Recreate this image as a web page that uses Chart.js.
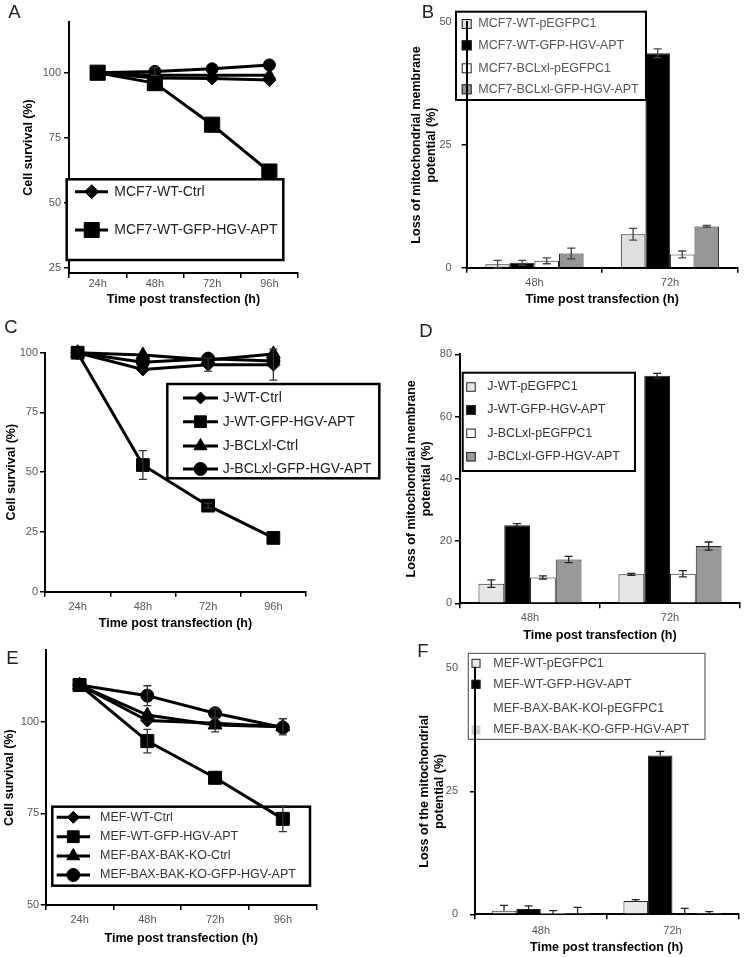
<!DOCTYPE html>
<html>
<head>
<meta charset="utf-8">
<script src="https://cdn.jsdelivr.net/npm/chart.js@4.4.1/dist/chart.umd.min.js"></script>
<style>
  html, body { margin: 0; padding: 0; background: #fff; }
  body { width: 747px; height: 957px; position: relative; overflow: hidden; }
  canvas { position: absolute; }
</style>
</head>
<body>
<script>
const family = "'Liberation Sans', Arial, Helvetica, sans-serif";
Chart.defaults.font.family = family;
Chart.defaults.animation = false;

const timeLabels = ['24h', '48h', '72h', '96h'];
const barTimes = ['48h', '72h'];
const xTitle = 'Time post transfection (h)';
const survivalTitle = 'Cell survival (%)';

// A - MCF7 survival (only the first two series are in the legend)
const aNames = ['MCF7-WT-Ctrl', 'MCF7-WT-GFP-HGV-APT', 'MCF7-BCLxl-Ctrl', 'MCF7-BCLxl-GFP-HGV-APT'];
const aWtCtrl = [100, 98, 97.8, 97.2];
const aWtApt = [100, 96, 80, 62];
const aBclCtrl = [100, 99, 99, 99];
const aBclApt = [100, 100.5, 101.5, 103];
const aErr = [[0, 0, 0, 0], [0, 0, 0, 0], [0, 0, 0, 0], [0, 1.5, 0, 0]];
const aTicks = [25, 50, 75, 100];

// B - MCF7 mitochondrial potential
const bNames = ['MCF7-WT-pEGFPC1', 'MCF7-WT-GFP-HGV-APT', 'MCF7-BCLxl-pEGFPC1', 'MCF7-BCLxl-GFP-HGV-APT'];
const bWtVec = [0.7, 6.8];
const bWtApt = [1.0, 43.7];
const bBclVec = [1.4, 2.7];
const bBclApt = [2.9, 8.4];
const bErr = [[0.8, 1.2], [0.5, 0.9], [0.6, 0.7], [1.1, 0.2]];
const bTicks = [0, 25, 50];

// C - Jurkat survival
const cNames = ['J-WT-Ctrl', 'J-WT-GFP-HGV-APT', 'J-BCLxl-Ctrl', 'J-BCLxl-GFP-HGV-APT'];
const cWtCtrl = [100, 93, 95, 95];
const cWtApt = [100, 53, 36, 22.5];
const cBclCtrl = [100, 99, 97, 99.5];
const cBclApt = [100, 96, 97.5, 96.5];
const cErr = [[0, 0, 2.7, 6.5], [0, 6, 1, 0], [0, 0, 0, 0], [0, 0, 0, 0]];
const cTicks = [0, 25, 50, 75, 100];

// D - Jurkat mitochondrial potential
const dNames = ['J-WT-pEGFPC1', 'J-WT-GFP-HGV-APT', 'J-BCLxl-pEGFPC1', 'J-BCLxl-GFP-HGV-APT'];
const dWtVec = [6.3, 9.3];
const dWtApt = [25.1, 73.1];
const dBclVec = [8.3, 9.5];
const dBclApt = [14.1, 18.4];
const dErr = [[1.2, 0.3], [0.5, 0.8], [0.5, 1.0], [1.0, 1.3]];
const dTicks = [0, 20, 40, 60, 80];

// E - MEF survival
const eNames = ['MEF-WT-Ctrl', 'MEF-WT-GFP-HGV-APT', 'MEF-BAX-BAK-KO-Ctrl', 'MEF-BAX-BAK-KO-GFP-HGV-APT'];
const eWtCtrl = [110, 100.3, 99.6, 98.6];
const eWtApt = [110, 94.7, 84.7, 73.5];
const eKoCtrl = [110, 101.8, 99.1, 98.6];
const eKoApt = [110, 107.1, 102.3, 98.4];
const eErr = [[0, 0, 0, 0], [0, 3.2, 0, 3.5], [0, 0, 1.9, 2.2], [0, 2.7, 1.3, 0]];
const eTicks = [50, 75, 100];

// F - MEF mitochondrial potential (upper error bars only)
const fNames = ['MEF-WT-pEGFPC1', 'MEF-WT-GFP-HGV-APT', 'MEF-BAX-BAK-KOl-pEGFPC1', 'MEF-BAX-BAK-KO-GFP-HGV-APT'];
const fWtVec = [0.7, 2.7];
const fWtApt = [1.1, 32.3];
const fKoVec = [0.05, 0];
const fKoApt = [0.2, 0.2];
const fErr = [[1.1, 0.3], [0.6, 0.8], [0.7, 1.2], [1.2, 0.35]];
const fTicks = [0, 25, 50];

const markers = ['rectRot', 'rect', 'triangle', 'circle'];

// panel layout, all in page pixels
const specs = [
  { id: 'A', type: 'line', letterAt: [14.3, 13.3],
    box: {x: 0, y: 0, w: 370, h: 312}, area: {l: 69, t: 22, r: 298, b: 273},
    yTitleX: 28.3, xTitleY: 300, xPad: 0, yPad: 3,
    labels: timeLabels, names: aNames, series: [aWtCtrl, aWtApt, aBclCtrl, aBclApt], errors: aErr,
    yMin: 23, yMax: 119.5, yTicks: aTicks, yTitle: survivalTitle, radii: [6.5, 10.7, 7, 6], errColor: '#333',
    legend: {box: {x: 66.7, y: 179.3, w: 216.6, h: 80.7}, border: 2.5, stroke: '#000', items: [0, 1],
      ys: [191.7, 230], font: 14, color: '#222', line: [75, 108], markAt: 91.7, textX: 114.3, radii: [7, 10.6]} },
  { id: 'B', type: 'bar', letterAt: [428, 13],
    box: {x: 370, y: 0, w: 377, h: 312}, area: {l: 466.7, t: 22.3, r: 737.7, b: 267.7},
    yTitleX: 416.7, xTitleY: 300, xPad: 5, yPad: 10,
    labels: barTimes, names: bNames, series: [bWtVec, bWtApt, bBclVec, bBclApt], errors: bErr,
    yMin: 0, yMax: 50, yTicks: bTicks, yTitle: ['Loss of mitochondrial membrane', 'potential (%)'],
    fills: ['#dedede', '#000', '#fff', '#969696'], borders: [1, 1, 1, 1], catPct: 0.725, errColor: '#444', axisOver: true,
    legend: {box: {x: 456, y: 11.7, w: 190, h: 88.3}, border: 2, stroke: '#000', items: [0, 1, 2, 3],
      ys: [24, 45.3, 68.3, 89.3], font: 12.5, color: '#555', swatchX: 466.7, swatch: 10, textX: 478.3} },
  { id: 'C', type: 'line', letterAt: [11, 327.5],
    box: {x: 0, y: 310, w: 382, h: 325}, area: {l: 45, t: 352.7, r: 306, b: 591.7},
    yTitleX: 11.7, xTitleY: 623.3, xPad: 4.5, yPad: 2,
    labels: timeLabels, names: cNames, series: [cWtCtrl, cWtApt, cBclCtrl, cBclApt], errors: cErr,
    yMin: 0, yMax: 100, yTicks: cTicks, yTitle: survivalTitle, radii: [6.5, 9, 8, 6.5], errColor: '#333',
    legend: {box: {x: 167.3, y: 384, w: 212, h: 94.3}, border: 2.5, stroke: '#000', items: [0, 1, 2, 3],
      ys: [398, 421.7, 446, 469], font: 14, color: '#222', line: [183, 218], markAt: 200.5, textX: 222.7, radii: [6, 8.3, 7.5, 6.5]} },
  { id: 'D', type: 'bar', letterAt: [426, 331.5],
    box: {x: 370, y: 310, w: 377, h: 335}, area: {l: 460, t: 354.3, r: 740, b: 603.3},
    yTitleX: 411.7, xTitleY: 636, xPad: 4, yPad: 3,
    labels: barTimes, names: dNames, series: [dWtVec, dWtApt, dBclVec, dBclApt], errors: dErr,
    yMin: 0, yMax: 80, yTicks: dTicks, yTitle: ['Loss of mitochondrial membrane', 'potential (%)'],
    fills: ['#e6e6e6', '#000', '#fff', '#999'], borders: [1, 1, 1, 1], catPct: 0.736, errColor: '#222',
    legend: {box: {x: 462.7, y: 372.7, w: 172.3, h: 98.3}, border: 2, stroke: '#000', items: [0, 1, 2, 3],
      ys: [387, 410, 433.3, 456.7], font: 12.5, color: '#333', swatchX: 471, swatch: 9.5, textX: 487.3} },
  { id: 'E', type: 'line', letterAt: [12.5, 658.5],
    box: {x: 0, y: 640, w: 370, h: 317}, area: {l: 45.7, t: 650, r: 316.7, b: 905},
    yTitleX: 9.7, xTitleY: 938.3, xPad: 4.5, yPad: 1.5,
    labels: timeLabels, names: eNames, series: [eWtCtrl, eWtApt, eKoCtrl, eKoApt], errors: eErr,
    yMin: 50, yMax: 119.5, yTicks: eTicks, yTitle: survivalTitle, radii: [6.5, 9.2, 8, 6.5], errColor: '#333',
    legend: {box: {x: 52.3, y: 806.7, w: 257.7, h: 79}, border: 2.5, stroke: '#000', items: [0, 1, 2, 3],
      ys: [817.3, 836.7, 856, 875], font: 12.5, color: '#333', line: [56.7, 90], markAt: 73.3, textX: 100, radii: [6, 8.3, 7.5, 6.5]} },
  { id: 'F', type: 'bar', letterAt: [423, 651.5],
    box: {x: 370, y: 638, w: 377, h: 319}, area: {l: 475, t: 668.3, r: 738.3, b: 914.3},
    yTitleX: 425, xTitleY: 947.7, xPad: 6, yPad: 12,
    labels: barTimes, names: fNames, series: [fWtVec, fWtApt, fKoVec, fKoApt], errors: fErr,
    yMin: 0, yMax: 50, yTicks: fTicks, yTitle: ['Loss of the mitochondrial', 'potential (%)'],
    fills: ['#e8e8e8', '#000', '#fff', '#cfcfcf'], borders: [1, 1, 0, 0], catPct: 0.745, errColor: '#222',
    upOnly: true, axisOver: true,
    legend: {box: {x: 468.3, y: 653.3, w: 236.7, h: 86}, border: 1, stroke: '#444', items: [0, 1, 2, 3],
      ys: [663.3, 684.3, 708.3, 730], font: 12.5, color: '#444', swatchX: 476, swatch: 9, textX: 493.3} }
];

function drawMarker(ctx, style, r, x, y) {
  if (Chart.helpers && Chart.helpers.drawPoint) {
    Chart.helpers.drawPoint(ctx, {pointStyle: style, radius: r, rotation: 0, borderWidth: 1}, x, y);
  } else {
    ctx.beginPath(); ctx.arc(x, y, r, 0, Math.PI * 2); ctx.fill();
  }
}

function drawLegend(chart, p) {
  const ctx = chart.ctx;
  const ox = p.box.x, oy = p.box.y;
  const lg = p.legend;
  const bx = lg.box.x - ox, by = lg.box.y - oy;
  ctx.save();
  ctx.fillStyle = '#fff';
  ctx.fillRect(bx, by, lg.box.w, lg.box.h);
  ctx.lineWidth = lg.border;
  ctx.strokeStyle = lg.stroke;
  ctx.strokeRect(bx, by, lg.box.w, lg.box.h);
  ctx.textBaseline = 'middle';
  ctx.textAlign = 'left';
  lg.items.forEach((di, k) => {
    const ds = chart.data.datasets[di];
    const y = lg.ys[k] - oy;
    if (p.type === 'line') {
      ctx.strokeStyle = '#000';
      ctx.lineWidth = 3;
      ctx.beginPath();
      ctx.moveTo(lg.line[0] - ox, y); ctx.lineTo(lg.line[1] - ox, y);
      ctx.stroke();
      ctx.fillStyle = '#000';
      ctx.lineWidth = 1;
      drawMarker(ctx, ds.pointStyle, lg.radii[k], lg.markAt - ox, y);
    } else {
      const s = lg.swatch;
      const sx = lg.swatchX - ox - s / 2, sy = y - s / 2;
      ctx.fillStyle = ds.backgroundColor;
      ctx.fillRect(sx, sy, s, s);
      if (ds.borderWidth) {
        ctx.lineWidth = 1;
        ctx.strokeStyle = ds.borderColor;
        ctx.strokeRect(sx + 0.5, sy + 0.5, s - 1, s - 1);
      }
    }
    ctx.font = lg.font + 'px ' + family;
    ctx.fillStyle = lg.color;
    ctx.fillText(ds.label, lg.textX - ox, y);
  });
  ctx.restore();
}

// error bars, legend box and panel letter
function decor(p) {
  return {
    id: 'decor' + p.id,
    beforeDatasetsDraw(chart) {
      // line markers sit on top of the legend box
      if (p.type === 'line') drawLegend(chart, p);
    },
    afterDatasetsDraw(chart) {
      const ctx = chart.ctx;
      const ys = chart.scales.y;
      const ox = p.box.x, oy = p.box.y;
      ctx.save();
      ctx.strokeStyle = p.errColor;
      ctx.lineWidth = 1.3;
      p.errors.forEach((errs, di) => {
        const meta = chart.getDatasetMeta(di);
        errs.forEach((e, j) => {
          if (!e) return;
          const v = chart.data.datasets[di].data[j];
          const x = meta.data[j].x;
          const yTop = ys.getPixelForValue(v + e);
          const yBot = ys.getPixelForValue(p.upOnly ? v : v - e);
          const cap = 4;
          ctx.beginPath();
          ctx.moveTo(x, yTop); ctx.lineTo(x, yBot);
          ctx.moveTo(x - cap, yTop); ctx.lineTo(x + cap, yTop);
          if (!p.upOnly) { ctx.moveTo(x - cap, yBot); ctx.lineTo(x + cap, yBot); }
          ctx.stroke();
        });
      });
      ctx.restore();

      if (p.type !== 'line') drawLegend(chart, p);

      ctx.save();
      ctx.font = '18.5px ' + family;
      ctx.fillStyle = '#222';
      ctx.textAlign = 'center';
      ctx.textBaseline = 'middle';
      ctx.fillText(p.id, p.letterAt[0] - ox, p.letterAt[1] - oy);
      ctx.restore();
    }
  };
}

specs.forEach(p => {
  const canvas = document.createElement('canvas');
  canvas.width = p.box.w;
  canvas.height = p.box.h;
  canvas.style.left = p.box.x + 'px';
  canvas.style.top = p.box.y + 'px';
  canvas.style.width = p.box.w + 'px';
  canvas.style.height = p.box.h + 'px';
  document.body.appendChild(canvas);

  const lh = 15;
  const yLeft = p.yTitleX - lh / 2;
  const yWidth = p.area.l - yLeft;
  const xHeight = p.xTitleY + lh / 2 - p.area.b;

  let datasets;
  if (p.type === 'line') {
    datasets = p.series.map((vals, i) => ({
      label: p.names[i], data: vals,
      borderColor: '#000', backgroundColor: '#000', borderWidth: 3,
      pointStyle: markers[i], pointRadius: p.radii[i],
      pointBackgroundColor: '#000', pointBorderColor: '#000', pointBorderWidth: 1,
      tension: 0, clip: false
    }));
  } else {
    datasets = p.series.map((vals, i) => ({
      label: p.names[i], data: vals,
      backgroundColor: p.fills[i], borderColor: '#222', borderWidth: p.borders[i],
      categoryPercentage: p.catPct, barPercentage: 1
    }));
  }

  const tickGrid = { drawOnChartArea: false, drawTicks: true, tickLength: 5, color: '#000', lineWidth: 1.5, offset: true };
  const titleFont = { size: 12.5, weight: 'bold', lineHeight: 1.2 };

  new Chart(canvas, {
    type: p.type,
    data: { labels: p.labels, datasets: datasets },
    options: {
      responsive: false,
      devicePixelRatio: 1,
      layout: { padding: {
        left: yLeft - p.box.x,
        top: p.area.t - p.box.y,
        right: p.box.x + p.box.w - p.area.r,
        bottom: p.box.y + p.box.h - (p.xTitleY + lh / 2)
      } },
      plugins: { legend: { display: false }, tooltip: { enabled: false } },
      scales: {
        x: {
          type: 'category', offset: true,
          grid: tickGrid,
          border: { display: true, color: '#000', width: 2 },
          ticks: { color: '#555', font: { size: 11, lineHeight: 1 }, padding: p.xPad, autoSkip: false, maxRotation: 0 },
          title: { display: true, text: xTitle, color: '#000', font: titleFont, padding: 0 },
          afterFit: s => { s.height = xHeight; }
        },
        y: {
          type: 'linear', min: p.yMin, max: p.yMax,
          afterBuildTicks: s => { s.ticks = p.yTicks.map(v => ({ value: v })); },
          grid: Object.assign({}, tickGrid, { offset: false }),
          border: { display: true, color: '#000', width: 2, z: p.axisOver ? 1 : 0 },
          ticks: { color: '#555', font: { size: 11, lineHeight: 1 }, padding: p.yPad },
          title: { display: true, text: p.yTitle, color: '#000', font: titleFont, padding: 0 },
          afterFit: s => { s.width = yWidth; }
        }
      }
    },
    plugins: [decor(p)]
  });
});
</script>
</body>
</html>
